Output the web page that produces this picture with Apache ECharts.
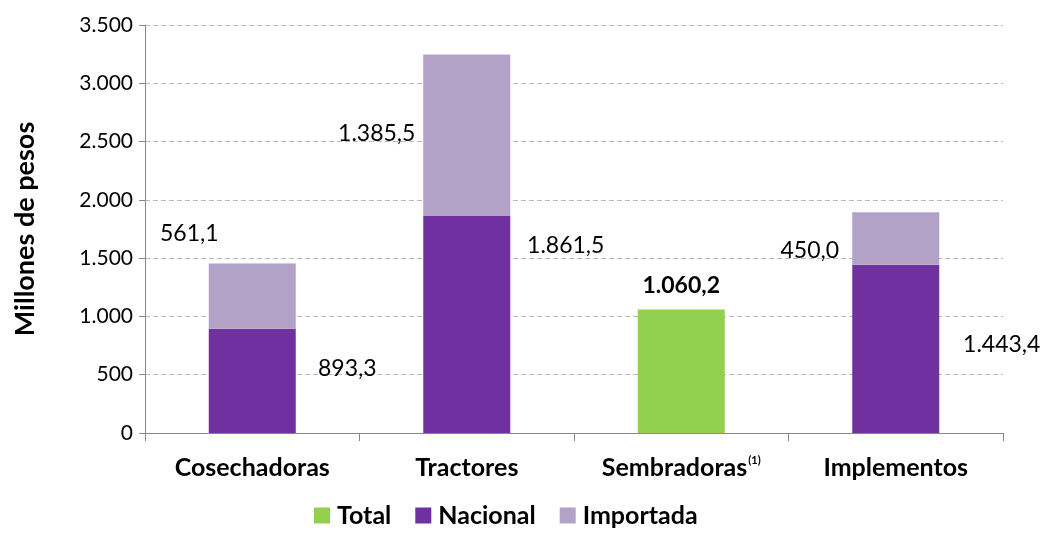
<!DOCTYPE html>
<html>
<head>
<meta charset="utf-8">
<script src="https://cdn.jsdelivr.net/npm/echarts@6/dist/echarts.min.js"></script>
<style>html,body{margin:0;padding:0;background:#fff;}#c{width:1046px;height:533px;}</style>
</head>
<body>
<div id="c"></div>
<script>
var categories = ['Cosechadoras', 'Tractores', 'Sembradoras', 'Implementos'];
var totalValues = [null, null, 1060.2, null];
var nacionalValues = [893.3, 1861.5, null, 1443.4];
var importadaValues = [561.1, 1385.5, null, 450.0];
var yTicks = [0, 500, 1000, 1500, 2000, 2500, 3000, 3500];

// label placement (styling, not data)
var nacOffsets = [[95, -12], [99, -79], [0, 0], [106, -4]];
var impOffsets = [[-63, -63], [-90, -2], [0, 0], [-86, 12]];

function fmtNum(v, dec) {
  var s = Number(v).toFixed(dec);
  var parts = s.split('.');
  var ip = parts[0].replace(/\B(?=(\d{3})+(?!\d))/g, '.');
  return dec > 0 ? ip + ',' + parts[1] : ip;
}

var FONT = 'Lato';
var chart = echarts.init(document.getElementById('c'));

function buildData(vals, offsets) {
  return vals.map(function (v, i) {
    if (v === null) return '-';
    return { value: v, label: { offset: offsets[i] } };
  });
}

chart.setOption({
  animation: false,
  textStyle: { fontFamily: FONT },
  grid: { left: 145, right: 43, top: 25, bottom: 100 },
  legend: {
    bottom: 0,
    left: 309,
    itemWidth: 16,
    itemHeight: 16,
    itemGap: 24,
    icon: 'rect',
    textStyle: { fontFamily: FONT, fontSize: 25, fontWeight: 'bold', color: '#000', padding: [0, 0, 0, 2] },
    data: ['Total', 'Nacional', 'Importada']
  },
  xAxis: {
    type: 'category',
    data: categories,
    axisLine: { lineStyle: { color: '#888', width: 1 } },
    axisTick: { show: true, alignWithLabel: false, length: 8, lineStyle: { color: '#888' } },
    axisLabel: {
      interval: 0,
      margin: 22,
      fontFamily: FONT,
      fontSize: 25,
      fontWeight: 'bold',
      color: '#000',
      formatter: function (v) {
        if (v === 'Sembradoras') return '{b|Sembradoras}{s|(1)}';
        return '{b|' + v + '}';
      },
      rich: {
        b: { fontFamily: FONT, fontSize: 25, fontWeight: 'bold', color: '#000' },
        s: { fontFamily: FONT, fontSize: 11, color: '#000', verticalAlign: 'top', padding: [0, 0, 10, 1] }
      }
    }
  },
  yAxis: {
    type: 'value',
    min: 0,
    max: 3500,
    interval: 500,
    name: 'Millones de pesos',
    nameLocation: 'middle',
    nameGap: 106,
    nameRotate: 90,
    nameTextStyle: { fontFamily: FONT, fontSize: 27, fontWeight: 'bold', color: '#000' },
    axisLine: { show: true, lineStyle: { color: '#888' } },
    axisTick: { show: true, length: 6, lineStyle: { color: '#888' } },
    splitLine: { show: true, lineStyle: { color: '#bbb', type: [5, 3], width: 1 } },
    axisLabel: {
      margin: 12,
      fontFamily: FONT,
      fontSize: 21,
      color: '#000',
      formatter: function (v) { return yTicks.indexOf(v) >= 0 ? fmtNum(v, 0) : ''; }
    }
  },
  series: [
    {
      name: 'Total',
      type: 'bar',
      stack: 's',
      barWidth: 87,
      itemStyle: { color: '#92D050' },
      label: {
        show: true,
        position: 'top',
        distance: 12,
        fontFamily: FONT,
        fontSize: 23,
        fontWeight: 'bold',
        color: '#000',
        formatter: function (p) { return fmtNum(p.value, 1); }
      },
      data: totalValues.map(function (v) { return v === null ? '-' : v; })
    },
    {
      name: 'Nacional',
      type: 'bar',
      stack: 's',
      barWidth: 87,
      itemStyle: { color: '#7030A0' },
      label: {
        show: true,
        position: 'inside',
        fontFamily: FONT,
        fontSize: 23,
        color: '#000',
        formatter: function (p) { return fmtNum(p.value, 1); }
      },
      data: buildData(nacionalValues, nacOffsets)
    },
    {
      name: 'Importada',
      type: 'bar',
      stack: 's',
      barWidth: 87,
      itemStyle: { color: '#B3A2C7' },
      label: {
        show: true,
        position: 'inside',
        fontFamily: FONT,
        fontSize: 23,
        color: '#000',
        formatter: function (p) { return fmtNum(p.value, 1); }
      },
      data: buildData(importadaValues, impOffsets)
    }
  ]
});
</script>
</body>
</html>
